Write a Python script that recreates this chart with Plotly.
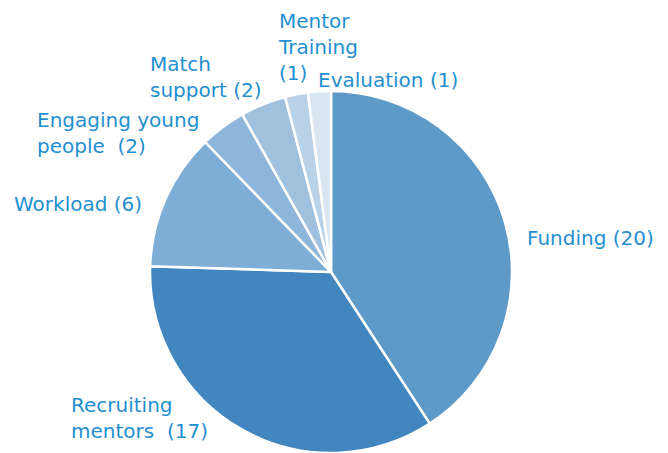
import plotly.graph_objects as go

labels = ["Funding", "Recruiting mentors", "Workload", "Engaging young people",
          "Match support", "Mentor Training", "Evaluation"]
values = [20, 17, 6, 2, 2, 1, 1]
colors = ["#5E9AC8", "#4286C0", "#7EADD5", "#8DB6DA", "#A0C1DE", "#B9D2E7", "#D9E6F1"]

# label text and its top-left position in window pixels
label_texts = ["Funding (20)", "Recruiting<br>mentors  (17)", "Workload (6)",
               "Engaging young<br>people  (2)", "Match<br>support (2)",
               "Mentor<br>Training<br>(1)", "Evaluation (1)"]
label_pos = [(525, 224), (69, 391), (12, 190), (35, 106), (148, 50), (276, 7), (316, 66)]

OFF = 8  # page body margin
W, H = 668 - OFF, 453 - OFF
TEXT = "#1F8FD0"

fig = go.Figure(go.Pie(
    labels=labels, values=values, sort=False, direction="clockwise", rotation=0,
    marker=dict(colors=colors, line=dict(color="white", width=2.5)),
    textinfo="none", hoverinfo="label+value", showlegend=False,
    domain=dict(x=[0.2152, 0.7636], y=[0.0, 0.8135]),
))

for txt, (px, py) in zip(label_texts, label_pos):
    fig.add_annotation(x=(px - OFF) / W, y=1 - (py - OFF) / H, xref="paper", yref="paper",
                       xanchor="left", yanchor="top", align="left",
                       text=txt, showarrow=False,
                       font=dict(family="DejaVu Sans", size=20, color=TEXT))

fig.update_layout(width=W, height=H, margin=dict(l=0, r=0, t=0, b=0),
                  paper_bgcolor="white", plot_bgcolor="white")
fig.write_html("out.html")
